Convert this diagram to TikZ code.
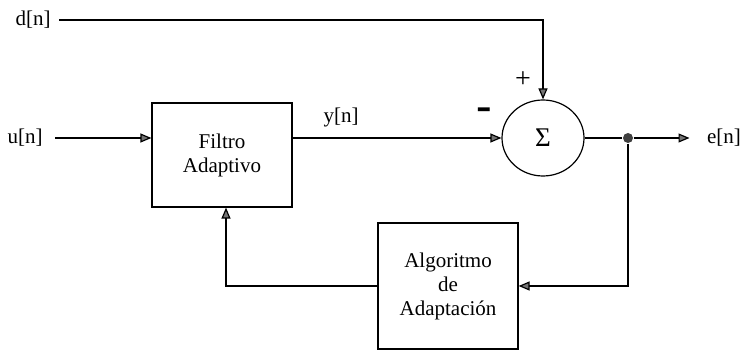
\documentclass[tikz,border=0pt]{standalone}
\usepackage{fontspec}
\setmainfont{Liberation Serif}
\usetikzlibrary{positioning,arrows}
\usetikzlibrary{shapes}
\usetikzlibrary{arrows.meta}

\begin{document}
\begin{tikzpicture}[x=1pt, y=-1pt, line width=1.2pt, >={Triangle[length=11pt,width=9pt,fill=black!55]}]
	\useasboundingbox (0,0) rectangle (746,352);
	\tikzstyle{every node}=[font=\fontsize{21}{24}\selectfont, draw, align=center, minimum width=140pt]
	\draw (222,155) node (filtro) [minimum height=104pt]{Filtro\\Adaptivo};
	\draw (448,286) node (algo) [minimum height=126pt]{Algoritmo\\de\\Adaptación};
	\draw (543,138) node (suma) [ellipse, minimum width=82pt, minimum height=76pt, inner sep=0pt]{\fontsize{27}{27}\selectfont Σ};
	\tikzstyle{every node}=[font=\fontsize{21}{24}\selectfont, draw=none, fill=none, inner sep=3pt]
	\draw (33,20) node (d) {d[n]};
	\draw (25,138) node (u) {u[n]};
	\draw (341,117) node (y) {y[n]};
	\draw (724,138) node (e) {e[n]};
	\draw (523,80) node (mas) [font=\fontsize{28}{28}\selectfont]{+};
	\draw (484,115) node (menos) {\scalebox{1.1}[2.6]{\textbf{–}}};
	\draw (628,138) node (nodo) [circle, fill=black!75, minimum size=10pt, inner sep=0pt]{};
	\draw [shorten <=5pt,->] (d) -| (suma);
	\draw [shorten <=9pt,->] (u) -- (u -| filtro.west);
	\draw [->] (filtro.east |- suma) -- (suma);
	\draw (suma) -- (nodo);
	\draw [shorten >=14pt,->] (nodo) -- (e);
	\draw [->] (nodo) |- (algo);
	\draw [->] (algo) -| ([xshift=4pt]filtro.south);
\end{tikzpicture}
\end{document}
